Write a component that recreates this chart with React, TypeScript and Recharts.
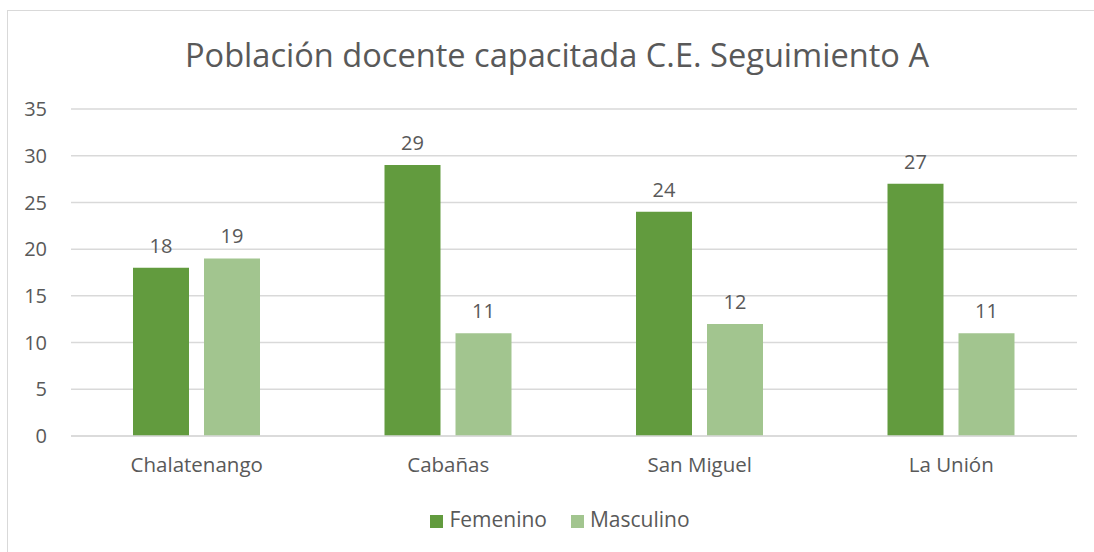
import React from "react";
import { BarChart, Bar, XAxis, YAxis, CartesianGrid, LabelList, Legend } from "recharts";

const categories = ["Chalatenango", "Cabañas", "San Miguel", "La Unión"];
const femenino = [18, 29, 24, 27];
const masculino = [19, 11, 12, 11];
const yTicks = [0, 5, 10, 15, 20, 25, 30, 35];

const data = categories.map((c, i) => ({ name: c, Femenino: femenino[i], Masculino: masculino[i] }));

const FONT = "'Open Sans', 'Liberation Sans', sans-serif";
const TEXT = "#595959";

export default function App() {
  return (
    <div style={{ position: "absolute", left: 0, top: 0, width: 1094, height: 552, background: "#fff", overflow: "hidden", fontFamily: FONT }}>
      <div style={{ position: "absolute", left: 7, top: 10, width: 1200, height: 1, background: "#d9d9d9" }} />
      <div style={{ position: "absolute", left: 7, top: 10, width: 1, height: 600, background: "#d9d9d9" }} />
      <div style={{ position: "absolute", left: 0, top: 33, width: 1114, textAlign: "center", fontSize: 32.6, color: TEXT, whiteSpace: "nowrap", lineHeight: "44px" }}>
        Población docente capacitada C.E. Seguimiento A
      </div>
      <BarChart
        width={1094}
        height={552}
        data={data}
        margin={{ top: 109, right: 17, left: 0, bottom: 76 }}
        barCategoryGap={62}
        barGap={15}
        style={{ position: "absolute", left: 0, top: 0 }}
      >
        <CartesianGrid vertical={false} stroke="#d9d9d9" strokeWidth={1.5} />
        <XAxis
          dataKey="name"
          axisLine={{ stroke: "#d9d9d9", strokeWidth: 1.5 }}
          tickLine={false}
          tickSize={0}
          tickMargin={21}
          height={40}
          tick={{ fill: TEXT, fontSize: 20.5, fontFamily: FONT }}
        />
        <YAxis
          width={71}
          domain={[0, 35]}
          ticks={yTicks}
          axisLine={false}
          tickLine={false}
          tickSize={0}
          tickMargin={24}
          tick={{ fill: TEXT, fontSize: 20, fontFamily: FONT }}
        />
        <Legend
          verticalAlign="middle"
          align="center"
          iconType="square"
          iconSize={13}
          wrapperStyle={{ top: 505, left: 25, width: 1094, fontSize: 21, fontFamily: FONT, color: TEXT }}
          formatter={(v) => <span style={{ color: TEXT, marginRight: 14, marginLeft: 2 }}>{v}</span>}
        />
        <Bar dataKey="Femenino" fill="#629b3e" isAnimationActive={false}>
          <LabelList dataKey="Femenino" position="top" offset={15} fill={TEXT} fontSize={20} fontFamily={FONT} />
        </Bar>
        <Bar dataKey="Masculino" fill="#a2c58f" isAnimationActive={false}>
          <LabelList dataKey="Masculino" position="top" offset={15} fill={TEXT} fontSize={20} fontFamily={FONT} />
        </Bar>
      </BarChart>
    </div>
  );
}
